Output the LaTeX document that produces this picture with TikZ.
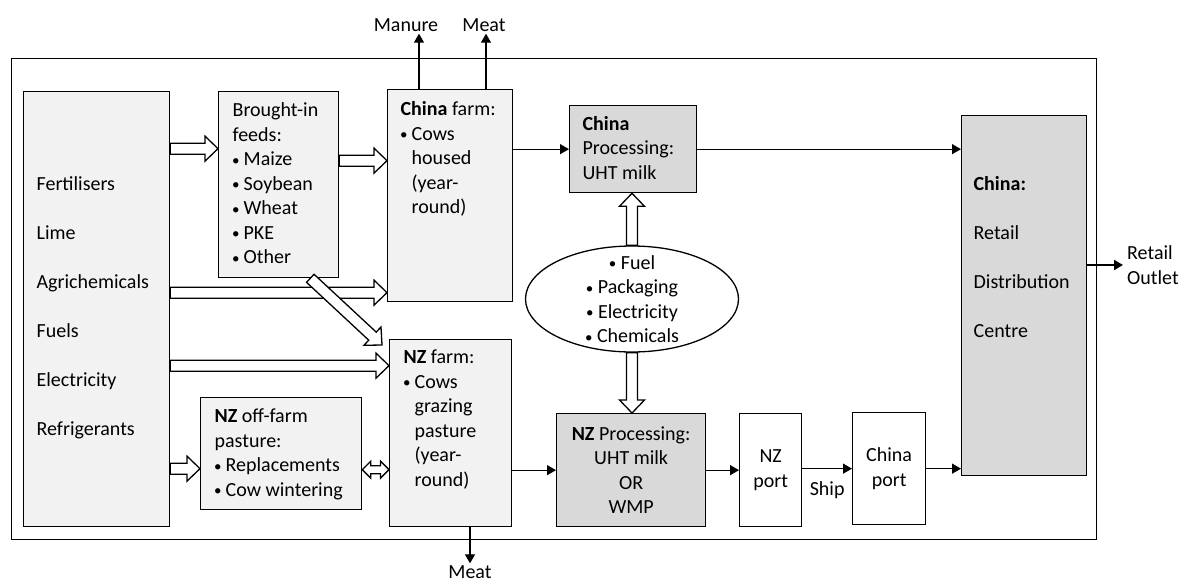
\documentclass[tikz,border=0pt]{standalone}
\usepackage{fontspec}
\setmainfont{Carlito}
\usetikzlibrary{arrows.meta,calc,shapes.geometric}
\definecolor{boxfill}{HTML}{F2F2F2}
\definecolor{procfill}{HTML}{D9D9D9}
\newcommand{\diagfont}{\fontsize{20pt}{24.5pt}\selectfont}
% bullet item and continuation indent
\newcommand{\dotb}{\raisebox{0.5pt}{\scalebox{0.75}{\textbullet}}}
\newcommand{\itm}{\makebox[11pt][l]{\hspace{-0.5pt}\dotb}}
\newcommand{\indt}{\hspace*{11pt}}
% text pinned to the top of a box: height, width, text
\newcommand{\cell}[3]{\parbox[c][#1][t]{#2}{\raggedright\strut #3}}
\tikzset{
  % boxes: light grey stage, darker grey processing, white port
  box/.style={draw, line width=1.3pt, fill=boxfill, inner sep=0pt,
              anchor=north west, font=\diagfont},
  procbox/.style={box, fill=procfill},
  portbox/.style={box, fill=white, align=center},
  outtext/.style={font=\diagfont, inner sep=2pt},
  % connectors
  flow/.style={line width=1.3pt, -{Triangle[length=9pt,width=10pt]}},
  hollowarrow/.style={draw, line width=1.3pt, fill=white, line join=miter},
}
% fat open arrow from #1 to #2
\newcommand{\hollowarr}[2]{%
  \draw[hollowarrow] ($(#1)!5.5pt!90:(#2)$)
    -- ($(#2)!13pt!(#1)!5.5pt!-90:(#1)$)
    -- ($(#2)!13pt!(#1)!12.5pt!-90:(#1)$)
    -- (#2)
    -- ($(#2)!13pt!(#1)!12.5pt!90:(#1)$)
    -- ($(#2)!13pt!(#1)!5.5pt!90:(#1)$)
    -- ($(#1)!5.5pt!-90:(#2)$) -- cycle;}
% small fat open arrow with two heads
\newcommand{\hollowboth}[2]{%
  \draw[hollowarrow] (#1)
    -- ($(#1)!8.5pt!(#2)!8.5pt!90:(#2)$)
    -- ($(#1)!8.5pt!(#2)!4pt!90:(#2)$)
    -- ($(#2)!8.5pt!(#1)!4pt!-90:(#1)$)
    -- ($(#2)!8.5pt!(#1)!8.5pt!-90:(#1)$)
    -- (#2)
    -- ($(#2)!8.5pt!(#1)!8.5pt!90:(#1)$)
    -- ($(#2)!8.5pt!(#1)!4pt!90:(#1)$)
    -- ($(#1)!8.5pt!(#2)!4pt!-90:(#2)$)
    -- ($(#1)!8.5pt!(#2)!8.5pt!-90:(#2)$) -- cycle;}

\begin{document}
\begin{tikzpicture}[x=1pt,y=-1pt]
\useasboundingbox (0,0) rectangle (1179,584);

% =================== SYSTEM BOUNDARY ===================
\node[draw, line width=1.3pt, inner sep=0pt, anchor=north west,
      minimum width=1085pt, minimum height=481pt] (frame) at (11,58) {};

% =================== STAGES ===================
\node[box, minimum width=146pt, minimum height=435pt] (inputs) at (23,91)
  {\cell{271pt}{120pt}{Fertilisers\\[24.5pt] Lime\\[24.5pt] Agrichemicals\\[24.5pt]
   Fuels\\[24.5pt] Electricity\\[24.5pt] Refrigerants}};

\node[box, minimum width=120pt, minimum height=186pt] (feeds) at (218,91)
  {\cell{170pt}{92pt}{Brought-in\\ feeds:\\ \itm Maize\\ \itm Soybean\\ \itm Wheat\\
   \itm PKE\\ \itm Other}};

\node[box, minimum width=125pt, minimum height=212pt] (chinafarm) at (387,89)
  {\cell{194pt}{99pt}{\textbf{China} farm:\\ \itm Cows\\ \indt housed\\ \indt (year-\\
   \indt round)}};

\node[procbox, minimum width=127pt, minimum height=87pt] (chinaproc) at (569,105)
  {\cell{72pt}{101pt}{\textbf{China}\\ Processing:\\ UHT milk}};

\node[ellipse, draw, line width=1.3pt, fill=white, minimum width=213pt,
      minimum height=106pt, inner xsep=0pt, inner ysep=-15pt, align=center,
      font=\diagfont] (energy) at (632,299)
  {\dotb~Fuel\\ \dotb~Packaging\\ \dotb~Electricity\\ \dotb~Chemicals};

\node[box, minimum width=161pt, minimum height=112pt] (offfarm) at (200,397)
  {\cell{96pt}{133pt}{\textbf{NZ} off-farm\\ pasture:\\ \itm Replacements\\
   \itm Cow wintering}};

\node[box, minimum width=122pt, minimum height=187pt] (nzfarm) at (389,339)
  {\cell{173pt}{94pt}{\textbf{NZ} farm:\\ \itm Cows\\ \indt grazing\\ \indt pasture\\
   \indt (year-\\ \indt round)}};

\node[procbox, align=center, minimum width=149pt, minimum height=113pt] (nzproc) at (556,413)
  {\textbf{NZ} Processing:\\ UHT milk\\ OR\\ WMP};

\node[portbox, minimum width=62pt, minimum height=113pt] (nzport) at (739,413) {NZ\\ port};
\node[portbox, minimum width=73pt, minimum height=112pt] (chinaport) at (852,412) {China\\ port};

\node[procbox, minimum width=125pt, minimum height=360pt] (retail) at (961,115)
  {\cell{244pt}{101pt}{\textbf{China:}\\[24.5pt] Retail\\[24.5pt] Distribution\\[24.5pt] Centre}};

% =================== OUTPUTS ===================
\node[outtext] (manure) at (406,25) {Manure};
\node[outtext] (meattop) at (484,25) {Meat};
\node[outtext] (meatlow) at (470,572) {Meat};
\node[outtext, align=left, anchor=west, inner xsep=4pt, inner ysep=0pt] (outlet) at (1123,265)
  {Retail\\ Outlet};

% =================== INPUT FLOWS ===================
\coordinate (feedsin) at ([yshift=36pt]feeds.west);
\coordinate (cfin1) at ([yshift=35pt]chinafarm.west);
\coordinate (cfin2) at ([yshift=-97pt]chinafarm.west);
\coordinate (nzfin1) at ([yshift=67.5pt]nzfarm.west);
\coordinate (feedsout) at ([xshift=-29pt]feeds.south east);
\coordinate (nzfin2) at ([xshift=-7pt,yshift=-6pt]nzfarm.north west);
\coordinate (offin) at ([yshift=-15pt]offfarm.west);
\coordinate (offout) at ([yshift=-16pt]offfarm.east);

\hollowarr{inputs.east |- feedsin}{feedsin}
\hollowarr{feeds.east |- cfin1}{cfin1}
\hollowarr{inputs.east |- cfin2}{cfin2}
\hollowarr{inputs.east |- nzfin1}{nzfin1}
\hollowarr{feedsout}{nzfin2}
\hollowarr{inputs.east |- offin}{offin}
\hollowboth{offout}{nzfarm.west |- offout}
\hollowarr{energy.north}{energy.north |- chinaproc.south}
\hollowarr{energy.south}{energy.south |- nzproc.north}

% =================== MILK FLOWS ===================
\draw[flow] (chinafarm.east |- chinaproc.west) -- (chinaproc.west);
\draw[flow] (chinaproc.east) -- (chinaproc.east -| retail.west);
\draw[flow] (nzfarm.east |- nzproc.west) -- (nzproc.west);
\draw[flow] (nzproc.east) -- (nzport.west);
\draw[flow] (nzport.east |- chinaport.west) -- node[outtext, below=10pt] (ship) {Ship} (chinaport.west);
\draw[flow] (chinaport.east) -- (chinaport.east -| retail.west);
\draw[flow, line width=2pt] (retail.east |- outlet.west) -- (outlet.west);

% co-products
\coordinate (manureout) at ([xshift=32pt]chinafarm.north west);
\coordinate (meatout) at ([xshift=99pt]chinafarm.north west);
\coordinate (meatdown) at ([xshift=81pt]nzfarm.south west);
\draw[flow] (manureout) -- (manureout |- manure.south);
\draw[flow] (meatout) -- (meatout |- meattop.south);
\draw[flow] (meatdown) -- (meatdown |- meatlow.north);

\end{tikzpicture}
\end{document}
